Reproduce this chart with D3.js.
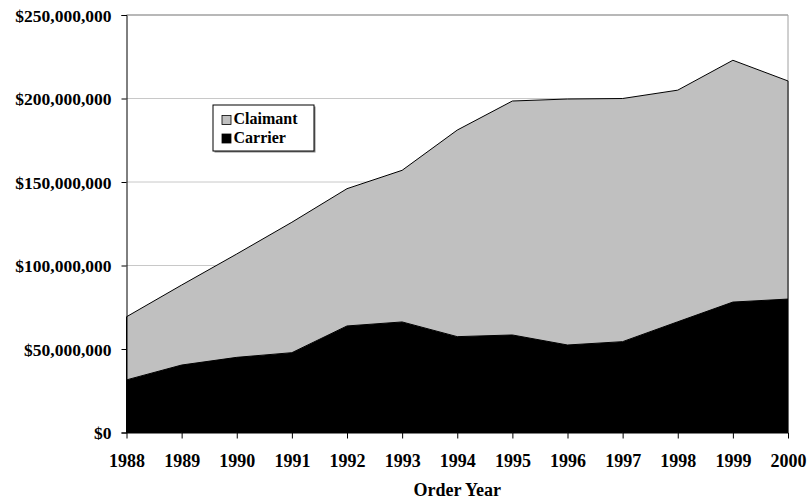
<!DOCTYPE html>
<html>
<head>
<meta charset="utf-8">
<script src="https://cdn.jsdelivr.net/npm/d3@7"></script>
<style>
  body { margin: 0; background: #fff; }
  text { font-family: "Liberation Serif", "Times New Roman", serif; font-weight: bold; fill: #000; }
</style>
</head>
<body>
<svg id="chart" width="810" height="502"></svg>
<script>
// chart data, in dollars
var years = ["1988", "1989", "1990", "1991", "1992", "1993", "1994", "1995", "1996", "1997", "1998", "1999", "2000"];
var carrier = [31.5e6, 40.4e6, 45.0e6, 47.8e6, 63.8e6, 66.2e6, 57.4e6, 58.4e6, 52.4e6, 54.4e6, 66.3e6, 78.1e6, 79.9e6];
var claimant = [37.8e6, 47.9e6, 61.9e6, 78.1e6, 82.2e6, 90.8e6, 123.7e6, 140.1e6, 147.3e6, 145.6e6, 138.7e6, 144.8e6, 130.6e6];
var yTicks = [0, 50e6, 100e6, 150e6, 200e6, 250e6];
var seriesNames = ["Carrier", "Claimant"];
var seriesColors = { Carrier: "#000000", Claimant: "#c0c0c0" };

var plotLeft = 126.5, plotRight = 788, plotTop = 15, plotBottom = 432.5;

var svg = d3.select("#chart");

var x = d3.scalePoint().domain(years).range([plotLeft, plotRight]).padding(0);
var y = d3.scaleLinear().domain([0, 250e6]).range([plotBottom, plotTop]);

var rows = years.map(function(yr, i) {
    return { year: yr, Carrier: carrier[i], Claimant: claimant[i] };
});
var stacked = d3.stack().keys(seriesNames)(rows);

//Gridlines
svg.append("g").selectAll("line")
    .data(yTicks.filter(function(d) { return d > 0; }))
    .enter().append("line")
    .attr("x1", plotLeft).attr("x2", plotRight)
    .attr("y1", function(d) { return y(d); })
    .attr("y2", function(d) { return y(d); })
    .attr("stroke", function(d) { return d === 250e6 ? "#a0a0a0" : "#c8c8c8"; })
    .attr("stroke-width", function(d) { return d === 250e6 ? 1.5 : 1; });

//Right border of plot
svg.append("line")
    .attr("x1", plotRight).attr("x2", plotRight)
    .attr("y1", plotTop).attr("y2", plotBottom)
    .attr("stroke", "#a0a0a0");

//Areas
var area = d3.area()
    .x(function(d) { return x(d.data.year); })
    .y0(function(d) { return y(d[0]); })
    .y1(function(d) { return y(d[1]); });

svg.append("g").selectAll("path")
    .data(stacked)
    .enter().append("path")
    .attr("d", area)
    .attr("fill", function(d) { return seriesColors[d.key]; })
    .attr("stroke", "#000")
    .attr("stroke-width", 1);

//Axes
var yAxis = d3.axisLeft(y).tickValues(yTicks).tickSize(5).tickPadding(10)
    .tickFormat(function(d) { return "$" + d3.format(",")(d); });
svg.append("g")
    .attr("transform", "translate(" + plotLeft + ",0)")
    .call(yAxis)
    .call(function(g) {
        g.selectAll("text").style("font-size", "17.5px").attr("dy", "0.36em");
        g.selectAll("line,path").attr("stroke", "#000");
    });

var xAxis = d3.axisBottom(x).tickSize(6).tickPadding(16);
svg.append("g")
    .attr("transform", "translate(0," + plotBottom + ")")
    .call(xAxis)
    .call(function(g) {
        g.select(".domain").attr("d", "M" + plotLeft + ",0.5H" + plotRight);
        g.selectAll("text").style("font-size", "18px");
        g.selectAll("line,path").attr("stroke", "#000");
    });

svg.append("text")
    .attr("x", (plotLeft + plotRight) / 2)
    .attr("y", 496)
    .attr("text-anchor", "middle")
    .style("font-size", "18px")
    .text("Order Year");

//Legend
var legend = svg.append("g").attr("transform", "translate(213,105)");
legend.append("rect")
    .attr("x", 1.5).attr("y", 1.5).attr("width", 101).attr("height", 46)
    .attr("fill", "#888");
legend.append("rect")
    .attr("x", 0).attr("y", 0).attr("width", 101).attr("height", 46)
    .attr("fill", "#fff").attr("stroke", "#000");

var legendItems = ["Claimant", "Carrier"];
legendItems.forEach(function(name, i) {
    legend.append("rect")
        .attr("x", 9).attr("y", 10.5 + i * 18.5)
        .attr("width", 9).attr("height", 9)
        .attr("fill", seriesColors[name])
        .attr("stroke", "#000").attr("stroke-width", 0.8);
    legend.append("text")
        .attr("x", 20.5).attr("y", 19 + i * 18.5)
        .style("font-size", "16px")
        .text(name);
});
</script>
</body>
</html>
